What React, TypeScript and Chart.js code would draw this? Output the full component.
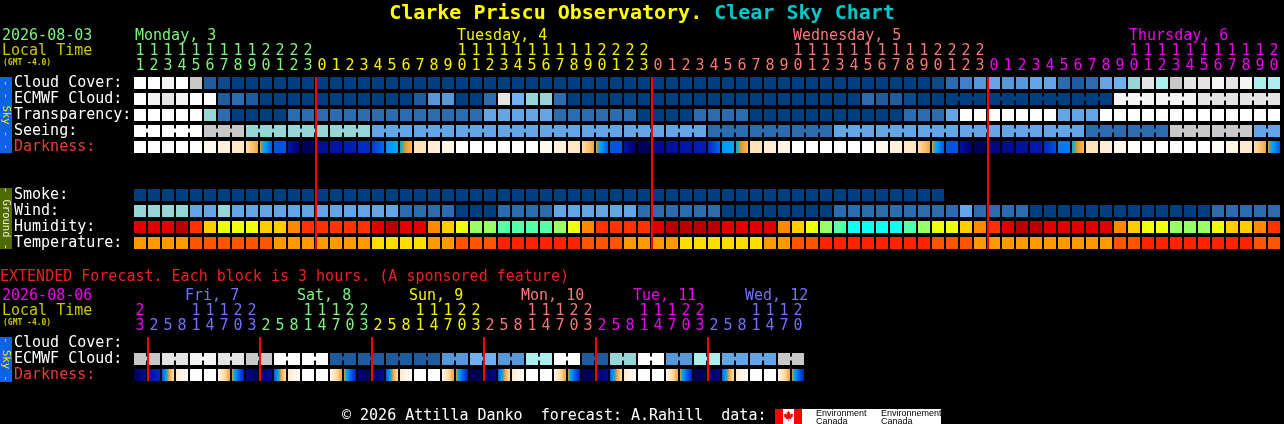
import React, { useEffect, useRef } from "react";
import { Chart, registerables } from "chart.js";
Chart.register(...registerables);

// ---------------- DATA ----------------
const titleA = "Clarke Priscu Observatory.";
const titleB = " Clear Sky Chart";
const mainDate = "2026-08-03";
const extDate = "2026-08-06";

const mainHours = [
  11, 12, 13, 14, 15, 16, 17, 18, 19, 20, 21, 22, 23,
  0, 1, 2, 3, 4, 5, 6, 7, 8, 9, 10, 11, 12, 13, 14, 15, 16, 17, 18, 19, 20, 21, 22, 23,
  0, 1, 2, 3, 4, 5, 6, 7, 8, 9, 10, 11, 12, 13, 14, 15, 16, 17, 18, 19, 20, 21, 22, 23,
  0, 1, 2, 3, 4, 5, 6, 7, 8, 9, 10, 11, 12, 13, 14, 15, 16, 17, 18, 19, 20,
];
const mainDayNames = ["Monday, 3", "Tuesday, 4", "Wednesday, 5", "Thursday, 6"];
const mainDayStart = [0, 13, 37, 61];
const mainDayLabelCol = [0, 23, 47, 71];
const mainDayColors = ["#7DF27D", "#F2F200", "#F87878", "#F000F0"];

const extHours = [
  23,
  2, 5, 8, 11, 14, 17, 20, 23,
  2, 5, 8, 11, 14, 17, 20, 23,
  2, 5, 8, 11, 14, 17, 20, 23,
  2, 5, 8, 11, 14, 17, 20, 23,
  2, 5, 8, 11, 14, 17, 20, 23,
  2, 5, 8, 11, 14, 17, 20,
];
const extDayNames = ["", "Fri, 7", "Sat, 8", "Sun, 9", "Mon, 10", "Tue, 11", "Wed, 12"];
const extDayStart = [0, 1, 9, 17, 25, 33, 41];
const extDayColors = ["#F000F0", "#7272FF", "#7DF27D", "#F2F200", "#F87878", "#F000F0", "#7272FF"];

// palettes
const cloudPalette = [
  "#003F7F", "#0D4A8A", "#1E5C9E", "#2C6BAD", "#4080C4", "#5898D8", "#63A5E5",
  "#6EB0F0", "#96D6D6", "#AAEEEE", "#C8C8C8", "#E4E4E4", "#F4F4F4", "#FFFFFF",
];
const humidityPalette = ["#11FFEE", "#55FFAA", "#99FF66", "#EEFF11", "#FFCC00", "#FF8800", "#FF3300", "#E00000", "#B80000"];
const tempPalette = ["#FFDD00", "#FF9900", "#FF5500", "#FF2200"];
const darkLevels = [0, 1, 2, 3, 4, 4.8, 5.4, 6, 7, 8, 9, 10, 11, 12, 12.5];
const darkRGB = [
  [255, 255, 255], [255, 246, 234], [254, 234, 208], [252, 215, 160], [248, 184, 96],
  [242, 154, 40], [40, 168, 176], [0, 160, 255], [0, 112, 240], [0, 80, 216],
  [0, 48, 200], [0, 24, 176], [0, 10, 140], [0, 0, 96], [0, 0, 80],
];

// main forecast rows (82 hourly columns)
const cloudCover = [
  13, 13, 12, 13, 10, 2, 1,
  0, 0, 0, 0, 0, 0, 0, 0, 0, 0, 0, 0, 0, 0, 0, 0, 0, 0, 0, 0, 0, 0, 0, 0, 0, 0, 0, 0,
  0, 0, 0, 0, 0, 0, 0, 0, 0, 0, 0, 0, 0, 0, 0, 0, 0, 0, 0, 0, 0, 0,
  1, 3, 4, 5, 6, 5, 5, 6, 6, 3, 2, 3, 6, 7, 8, 11, 9, 10, 11, 11, 12, 11, 12, 9, 9,
];
const ecmwfCloud = [
  13, 12, 11, 12, 13, 13, 2, 3, 2,
  0, 0, 0, 0, 0, 0, 0, 0, 0, 0, 0,
  2, 5, 5, 0, 0, 3, 11, 7, 8, 8, 3,
  0, 0, 0, 0, 0, 0, 0, 0, 0, 0, 0, 0, 0, 0, 0, 0, 0, 0, 0, 0, 0,
  3, 2, 2, 1, 0, 0,
  0, 0, 0, 0, 0, 0, 0, 0, 0, 0, 0, 0,
  12, 12, 12, 12, 12, 12, 11, 11, 11, 11, 11, 11,
];
const transparency = [
  13, 13, 13, 13, 13, 8, 3, 0, 0, 0, 0,
  3, 3, 3, 3, 3, 3, 3, 3, 3, 3, 3, 3, 3, 3,
  6, 6, 6, 6, 6, 3, 3, 3, 3, 3, 3, 0, 0, 0, 0, 3, 3, 3, 3,
  0, 0, 0, 0, 0, 0, 0, 0, 0, 0, 0, 3, 3, 3, 6,
  13, 13, 13, 13, 13, 13, 13, 6, 6, 6,
  13, 13, 13, 13, 13, 13, 13, 13, 13, 13, 13, 13, 13,
];
const seeing = [
  13, 13, 13, 13, 13, 10, 10, 10,
  8, 8, 8, 8, 8, 8, 8, 8, 8,
  6, 6, 6, 6, 6, 6, 6, 6, 6, 6, 6, 6, 6, 6, 6, 6, 6, 6, 6, 6, 6, 6, 6, 6,
  3, 3, 3, 3, 3, 3, 3, 3, 3,
  6, 6, 6, 6, 6, 6, 6, 6, 6, 6, 6, 6, 6, 6, 6, 6, 6, 6,
  3, 3, 3, 3, 3, 3, 10, 10, 10, 10, 10, 10, 6, 6,
];
const darkStart = [
  0, 0, 0, 0, 0, 0.8, 1.5, 2.2, 2.8, 4.8, 7.9, 10.2, 12.2, 10.6, 10.3, 9.8, 9.2, 8.6, 6.3, 5.6,
  2.5, 1.8, 1.1, 0, 0, 0, 0, 0, 0, 0.8, 1.5, 2.2, 2.8, 4.8, 7.9, 10.2, 12.2, 10.8, 10.5, 10.2,
  9.8, 9.2, 6.2, 5.6, 2.5, 1.8, 1.1, 0, 0, 0, 0, 0, 0, 0.8, 1.5, 2.2, 2.8, 4.8, 7.9, 10.3,
  12.3, 11.3, 10.9, 10.5, 10.1, 9.3, 6.8, 5.6, 2.5, 1.7, 1.0, 0, 0, 0, 0, 0, 0, 0.5, 1.2, 2.0,
  2.7, 4.8,
];
const darkEnd = [
  0, 0, 0, 0, 0, 0.8, 1.5, 2.2, 4.6, 7.6, 7.9, 12.0, 12.2, 10.6, 10.3, 9.8, 9.2, 7.2, 5.8, 4.0,
  2.5, 1.8, 1.1, 0, 0, 0, 0, 0, 0, 0.8, 1.5, 2.2, 4.6, 7.6, 7.9, 12.0, 12.2, 10.8, 10.5, 10.2,
  9.8, 7.2, 5.9, 4.0, 2.5, 1.8, 1.1, 0, 0, 0, 0, 0, 0, 0.8, 1.5, 2.2, 4.6, 7.6, 7.9, 12.0,
  12.3, 11.3, 10.9, 10.5, 10.1, 8.0, 6.8, 4.0, 2.5, 1.7, 1.0, 0, 0, 0, 0, 0, 0, 0.5, 1.2, 2.0,
  4.6, 7.6,
];
const smoke = [
  0, 0, 0, 0, 0, 0, 0, 0, 0, 0, 0, 0, 0, 0, 0, 0, 0, 0, 0, 0, 0, 0, 0, 0, 0, 0, 0, 0, 0,
  0, 0, 0, 0, 0, 0, 0, 0, 0, 0, 0, 0, 0, 0, 0, 0, 0, 0, 0, 0, 0, 0, 0, 0, 0, 0, 0, 0, 0,
];
const wind = [
  8, 8, 8, 8, 6, 6, 8, 6, 6, 6, 6, 6, 6, 6, 6, 6, 6, 6, 6,
  3, 3, 3, 3, 0, 0, 0, 3, 3, 3, 3, 6, 6, 6, 6, 6, 6, 3, 3, 3, 3, 3, 3,
  0, 0, 0, 0, 0, 0, 0, 0, 3, 3, 3, 3, 3, 3, 3, 3, 3, 6, 3, 3, 3, 3,
  0, 0, 0, 0, 0, 0, 0, 0, 0, 0, 0, 0, 0, 3, 3, 3, 3, 3,
];
const humidity = [
  7, 7, 7, 8, 6, 4, 3, 3, 3, 4, 4, 5, 6, 6, 6, 6, 6, 7, 8, 7, 7,
  5, 4, 3, 2, 2, 1, 1, 1, 1, 2, 3, 5, 6, 6, 6, 6, 7, 8, 8, 8, 8, 7, 7, 7, 7,
  5, 4, 3, 2, 1, 0, 0, 0, 0, 1, 2, 3, 3, 4, 5, 6, 7, 8, 8, 7, 7, 7, 7, 7,
  5, 4, 3, 3, 2, 2, 2, 3, 4, 4, 5, 6,
];
const temperature = [
  1, 1, 1, 1, 2, 2, 2, 2, 2, 2, 1, 1, 1, 1, 1, 1, 1, 0, 0, 0, 0,
  1, 1, 2, 2, 2, 3, 3, 3, 3, 3, 3, 2, 2, 2, 1, 1, 1, 1, 0, 0, 0, 0, 0, 0,
  1, 1, 2, 2, 3, 3, 3, 3, 3, 3, 3, 3, 2, 2, 2,
  1, 1, 1, 1, 1, 1, 1, 1, 1, 1, 2, 2, 3, 3, 3, 3, 3, 3, 3, 3, 2, 2,
];

// extended forecast rows (48 three-hour blocks)
const extEcmwf = [
  10, 10, 11, 11, 12, 12, 11, 11, 10, 10, 13, 13, 13, 13, 2, 2, 2, 2, 2, 2, 2, 2, 5, 5,
  7, 7, 5, 5, 9, 9, 13, 13, 2, 2, 8, 8, 13, 13, 5, 5, 9, 9, 6, 6, 6, 6, 10, 10,
];
const extDarkStart = [
  12.2, 10.6, 7.6, 2.0, 0, 0, 0.8, 4.8,
  11.2, 12.0, 7.6, 2.0, 0, 0, 0.8, 4.8,
  11.5, 12.2, 7.6, 2.0, 0, 0, 0.8, 4.8,
  12.4, 12.2, 7.4, 2.0, 0, 0, 0.8, 4.8,
  12.3, 12.0, 7.4, 2.0, 0, 0, 0.8, 4.8,
  12.3, 12.1, 7.4, 2.0, 0, 0, 0.8, 4.8,
];
const extDarkEnd = [
  10.8, 9.4, 2.6, 0.3, 0, 0, 4.7, 9.5,
  12.2, 10.6, 2.6, 0.3, 0, 0, 4.7, 9.5,
  12.3, 10.8, 2.6, 0.3, 0, 0, 4.7, 9.5,
  12.4, 11.2, 2.6, 0.3, 0, 0, 4.7, 9.5,
  12.3, 10.8, 2.6, 0.3, 0, 0, 4.7, 9.5,
  12.3, 11.2, 2.6, 0.3, 0, 0, 4.7, 9.5,
];

// ---------------- LAYOUT ----------------
const W = 1284;
const H = 424;
const COL_PX = 14;
const ROW_PX = 16;
const CELL = 12;
const CELL_H = 0.75;
const X_MIN = -10;
const X_MAX = X_MIN + W / COL_PX;
const Y_MIN = -77 / ROW_PX;
const Y_MAX = Y_MIN + H / ROW_PX;
const LINE_NUDGE = 1 / COL_PX;
const R = { cloud: 0, ecmwf: 1, transp: 2, seeing: 3, dark: 4, smoke: 7, wind: 8, hum: 9, temp: 10, xCloud: 16.25, xEcmwf: 17.25, xDark: 18.25 };
const MONO = '"DejaVu Sans Mono", "Liberation Mono", monospace';

function darkColor(d: number): string {
  if (d <= darkLevels[0]) return `rgb(${darkRGB[0].join(",")})`;
  for (let i = 1; i < darkLevels.length; i++) {
    if (d <= darkLevels[i]) {
      const t = (d - darkLevels[i - 1]) / (darkLevels[i] - darkLevels[i - 1]);
      const a = darkRGB[i - 1], b = darkRGB[i];
      const c = a.map((v, k) => Math.round(v + (b[k] - v) * t));
      return `rgb(${c.join(",")})`;
    }
  }
  return `rgb(${darkRGB[darkRGB.length - 1].join(",")})`;
}

function cellSet(values: number[], row: number, palette: string[]) {
  return {
    type: "bar",
    order: 1,
    data: values.map((v, i) => ({ x: i, y: [row, row + CELL_H] })),
    backgroundColor: values.map((v) => palette[v]),
    barThickness: CELL,
    grouped: false,
    inflateAmount: 0,
    borderWidth: 0,
  };
}

function darkSet(starts: number[], ends: number[], row: number) {
  return {
    type: "bar",
    order: 1,
    data: starts.map((v, i) => ({ x: i, y: [row, row + CELL_H] })),
    backgroundColor: (ctx: any) => {
      const i = ctx.dataIndex;
      if (typeof i !== "number") return "#000";
      const a = starts[i], b = ends[i];
      const xs = ctx.chart.scales && ctx.chart.scales.x;
      if (a === b || !xs) return darkColor(a);
      const px = xs.getPixelForValue(i);
      if (!Number.isFinite(px)) return darkColor((a + b) / 2);
      const g = ctx.chart.ctx.createLinearGradient(px - CELL / 2, 0, px + CELL / 2, 0);
      for (let k = 0; k <= 12; k++) {
        const t = k / 12;
        g.addColorStop(t, darkColor(a + (b - a) * t));
      }
      return g;
    },
    barThickness: CELL,
    grouped: false,
    inflateAmount: 0,
    borderWidth: 0,
  };
}

function linkSet(values: number[], row: number, palette: string[], first: number, start: number, len: number) {
  const pts: any[] = [];
  const cols: string[] = [];
  const block = (i: number) => Math.floor((i - start) / len);
  for (let i = first; i < values.length - 1; i++) {
    if (block(i) === block(i + 1)) {
      pts.push({ x: i + 0.5, y: [row + 0.22, row + 0.47] });
      cols.push(palette[values[i]]);
    }
  }
  return { type: "bar", order: 1, data: pts, backgroundColor: cols, barThickness: 4, grouped: false, inflateAmount: 0, borderWidth: 0 };
}

function lineSet(starts: number[], y0: number, y1: number) {
  return {
    type: "bar",
    order: 0,
    data: starts.map((s) => ({ x: s - 0.5 + LINE_NUDGE, y: [y0, y1] })),
    backgroundColor: "#FF0000",
    barThickness: 2,
    grouped: false,
    inflateAmount: 0,
    borderWidth: 0,
  };
}

function dayOf(i: number, starts: number[]) {
  let d = 0;
  for (let k = 0; k < starts.length; k++) if (i >= starts[k]) d = k;
  return d;
}

const leaf = [
  [0, -1], [0.18, -0.62], [0.38, -0.72], [0.3, -0.2], [0.62, -0.5], [0.68, -0.32], [0.95, -0.38],
  [0.82, -0.02], [0.92, 0.05], [0.5, 0.4], [0.55, 0.55], [0.06, 0.5], [0.06, 0.95], [-0.06, 0.95],
  [-0.06, 0.5], [-0.55, 0.55], [-0.5, 0.4], [-0.92, 0.05], [-0.82, -0.02], [-0.95, -0.38],
  [-0.68, -0.32], [-0.62, -0.5], [-0.3, -0.2], [-0.38, -0.72], [-0.18, -0.62],
];

const cscPlugin = {
  id: "cscText",
  beforeDraw(chart: any) {
    const c = chart.ctx;
    c.save();
    c.fillStyle = "#000";
    c.fillRect(0, 0, chart.width, chart.height);
    c.restore();
  },
  afterDraw(chart: any) {
    const c = chart.ctx;
    const xs = chart.scales.x;
    const ys = chart.scales.y;
    const px = (v: number) => xs.getPixelForValue(v);
    const py = (v: number) => ys.getPixelForValue(v);
    c.save();
    c.textBaseline = "alphabetic";
    c.textAlign = "left";

    // title
    c.font = `bold 20px ${MONO}`;
    const wA = c.measureText(titleA).width;
    const wB = c.measureText(titleB).width;
    const tx = 642 - (wA + wB) / 2;
    c.fillStyle = "#FFFF00";
    c.fillText(titleA, tx, 19);
    c.fillStyle = "#00C8C8";
    c.fillText(titleB, tx + wA, 19);

    // main header
    c.font = `15px ${MONO}`;
    c.fillStyle = mainDayColors[0];
    c.fillText(mainDate, 2, 40);
    c.fillStyle = "#C8C800";
    c.fillText("Local Time", 2, 55);
    c.font = `bold 8px ${MONO}`;
    c.fillText("(GMT -4.0)", 3, 65);
    c.font = `15px ${MONO}`;
    mainDayNames.forEach((n, d) => {
      c.fillStyle = mainDayColors[d];
      c.fillText(n, px(mainDayLabelCol[d]) - CELL / 2 + 1, 40);
    });
    c.textAlign = "center";
    mainHours.forEach((h, i) => {
      c.fillStyle = mainDayColors[dayOf(i, mainDayStart)];
      if (h >= 10) c.fillText(String(Math.floor(h / 10)), px(i), 55);
      c.fillText(String(h % 10), px(i), 70);
    });

    // row labels
    c.textAlign = "left";
    const rows: [string, number, string][] = [
      ["Cloud Cover:", R.cloud, "#FFFFFF"],
      ["ECMWF Cloud:", R.ecmwf, "#FFFFFF"],
      ["Transparency:", R.transp, "#FFFFFF"],
      ["Seeing:", R.seeing, "#FFFFFF"],
      ["Darkness:", R.dark, "#F03A3A"],
      ["Smoke:", R.smoke, "#FFFFFF"],
      ["Wind:", R.wind, "#FFFFFF"],
      ["Humidity:", R.hum, "#FFFFFF"],
      ["Temperature:", R.temp, "#FFFFFF"],
      ["Cloud Cover:", R.xCloud, "#FFFFFF"],
      ["ECMWF Cloud:", R.xEcmwf, "#FFFFFF"],
      ["Darkness:", R.xDark, "#F03A3A"],
    ];
    rows.forEach(([t, r, col]) => {
      c.fillStyle = col;
      c.fillText(t, 14, py(r) + 10);
    });

    // side bars
    const sideBar = (y0: number, y1: number, fill: string, text: string, tcol: string, size: number) => {
      c.fillStyle = fill;
      c.fillRect(0, y0, 12, y1 - y0);
      c.save();
      c.translate(6, (y0 + y1) / 2);
      c.rotate(Math.PI / 2);
      c.textAlign = "center";
      c.textBaseline = "middle";
      c.font = `${size}px ${MONO}`;
      c.fillStyle = tcol;
      c.fillText(text, 0, 0);
      c.restore();
    };
    sideBar(py(R.cloud), py(R.dark + CELL_H), "#0E62E6", "- - Sky - -", "#FFEE00", 10.5);
    sideBar(py(R.smoke) - 1, py(R.temp + CELL_H), "#4F6A00", "- Ground -", "#EEEED0", 10.5);
    sideBar(py(R.xCloud), py(R.xDark + CELL_H) + 1, "#0E62E6", "- Sky -", "#FFEE00", 10.5);

    // extended header
    c.textAlign = "left";
    c.font = `15px ${MONO}`;
    c.fillStyle = "#F02020";
    c.fillText("EXTENDED Forecast. Each block is 3 hours. (A sponsored feature)", 0, 281);
    c.fillStyle = "#F000F0";
    c.fillText(extDate, 2, 300);
    c.fillStyle = "#C8C800";
    c.fillText("Local Time", 2, 315);
    c.font = `bold 8px ${MONO}`;
    c.fillText("(GMT -4.0)", 3, 325);
    c.font = `15px ${MONO}`;
    extDayNames.forEach((n, d) => {
      if (!n) return;
      c.fillStyle = extDayColors[d];
      c.fillText(n, px(extDayStart[d] - 0.5) + 38, 300);
    });
    c.textAlign = "center";
    extHours.forEach((h, i) => {
      c.fillStyle = extDayColors[dayOf(i, extDayStart)];
      if (h >= 10) c.fillText(String(Math.floor(h / 10)), px(i), 315);
      c.fillText(String(h % 10), px(i), 330);
    });

    // footer
    c.textAlign = "left";
    c.fillStyle = "#FFFFFF";
    c.fillText("\u00A9 2026 Attilla Danko  forecast: A.Rahill  data:", 342, 420);
    c.fillStyle = "#FFFFFF";
    c.fillRect(775, 409, 166, 15);
    c.fillStyle = "#FF0000";
    c.fillRect(775, 409, 8, 15);
    c.fillRect(794, 409, 8, 15);
    c.beginPath();
    leaf.forEach(([lx, ly], k) => {
      const X = 788.5 + lx * 5;
      const Y = 416 + ly * 5.5;
      if (k === 0) c.moveTo(X, Y);
      else c.lineTo(X, Y);
    });
    c.closePath();
    c.fill();
    c.fillStyle = "#000000";
    c.font = `9px "Liberation Sans", Arial, sans-serif`;
    c.fillText("Environment", 816, 416);
    c.fillText("Canada", 816, 424);
    c.fillText("Environnement", 881, 416);
    c.fillText("Canada", 881, 424);
    c.restore();
  },
};

export default function App() {
  const ref = useRef<HTMLCanvasElement>(null);
  useEffect(() => {
    document.body.style.margin = "0";
    document.body.style.background = "#000";
    const canvas = ref.current;
    if (!canvas) return;
    const datasets: any[] = [
      lineSet(mainDayStart.slice(1), R.cloud, R.temp + CELL_H),
      lineSet(extDayStart.slice(1), R.xCloud, R.xDark + CELL_H),
      cellSet(cloudCover, R.cloud, cloudPalette),
      cellSet(ecmwfCloud, R.ecmwf, cloudPalette),
      linkSet(ecmwfCloud, R.ecmwf, cloudPalette, 58, 58, 3),
      cellSet(transparency, R.transp, cloudPalette),
      cellSet(seeing, R.seeing, cloudPalette),
      linkSet(seeing, R.seeing, cloudPalette, 0, 2, 3),
      darkSet(darkStart, darkEnd, R.dark),
      cellSet(smoke, R.smoke, cloudPalette),
      cellSet(wind, R.wind, cloudPalette),
      cellSet(humidity, R.hum, humidityPalette),
      cellSet(temperature, R.temp, tempPalette),
      cellSet(extEcmwf, R.xEcmwf, cloudPalette),
      linkSet(extEcmwf, R.xEcmwf, cloudPalette, 0, 0, 2),
      darkSet(extDarkStart, extDarkEnd, R.xDark),
    ];
    const chart = new Chart(canvas, {
      type: "bar",
      data: { datasets },
      options: {
        animation: false,
        responsive: false,
        devicePixelRatio: 1,
        events: [],
        layout: { padding: 0 },
        plugins: { legend: { display: false }, title: { display: false }, tooltip: { enabled: false } },
        scales: {
          x: { type: "linear", min: X_MIN, max: X_MAX, display: false, offset: false },
          y: { type: "linear", min: Y_MIN, max: Y_MAX, reverse: true, display: false },
        },
      },
      plugins: [cscPlugin],
    } as any);
    return () => chart.destroy();
  }, []);
  return (
    <div style={{ position: "fixed", left: 0, top: 0, width: W, height: H, background: "#000" }}>
      <canvas ref={ref} width={W} height={H} style={{ display: "block", width: W, height: H }} />
    </div>
  );
}
